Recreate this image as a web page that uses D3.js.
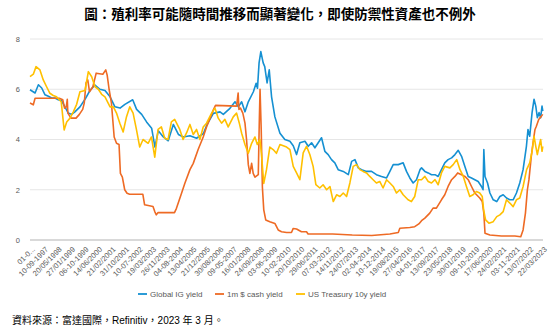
<!DOCTYPE html>
<html><head><meta charset="utf-8">
<script src="https://cdn.jsdelivr.net/npm/d3@7"></script>
<style>
html,body{margin:0;padding:0;background:#fff;}
svg{display:block;}
</style></head>
<body>
<svg id="chart" width="560" height="334"></svg>
<script>
// ---- data (decimal year, value %) ----
const seriesNames = ["Global IG yield", "1m $ cash yield", "US Treasury 10y yield"];
const seriesColors = ["#1590D2", "#EE6A24", "#FFC000"];

const globalIG = [[1997.00,5.98],[1997.26,5.85],[1997.43,6.18],[1997.60,6.05],[1997.77,5.78],[1997.94,5.72],[1998.11,5.65],[1998.28,5.65],[1998.45,5.58],[1998.62,5.54],[1998.79,5.30],[1998.96,5.05],[1999.13,5.00],[1999.30,5.10],[1999.56,5.30],[1999.82,5.60],[2000.07,5.95],[2000.33,6.17],[2000.58,6.00],[2000.84,5.95],[2001.10,5.70],[2001.35,5.30],[2001.61,5.25],[2001.86,5.40],[2002.26,5.58],[2002.46,5.20],[2002.72,5.00],[2002.97,4.70],[2003.23,4.45],[2003.40,3.70],[2003.57,4.35],[2003.83,4.10],[2004.08,3.95],[2004.34,4.60],[2004.60,4.20],[2004.85,4.10],[2005.19,4.15],[2005.53,4.05],[2005.88,4.24],[2006.05,4.57],[2006.39,5.04],[2006.73,5.10],[2006.90,5.00],[2007.24,5.24],[2007.50,5.50],[2007.67,5.30],[2007.84,5.50],[2008.01,5.10],[2008.18,5.50],[2008.44,5.90],[2008.58,6.24],[2008.65,6.04],[2008.73,7.05],[2008.82,7.50],[2008.94,7.05],[2009.02,6.90],[2009.14,6.25],[2009.25,6.77],[2009.37,5.70],[2009.54,4.90],[2009.80,4.25],[2010.05,4.00],[2010.31,3.93],[2010.48,3.75],[2010.65,3.40],[2010.82,3.87],[2011.08,3.93],[2011.25,3.73],[2011.42,3.87],[2011.59,3.67],[2011.76,3.87],[2011.93,4.07],[2012.10,3.53],[2012.27,3.40],[2012.44,3.20],[2012.61,3.07],[2012.78,2.80],[2013.04,2.73],[2013.30,2.60],[2013.47,3.13],[2013.64,3.20],[2013.81,2.87],[2013.98,2.80],[2014.23,2.73],[2014.49,2.73],[2014.74,2.60],[2015.00,2.53],[2015.26,2.47],[2015.43,2.73],[2015.60,3.00],[2015.86,3.00],[2016.11,3.07],[2016.28,2.73],[2016.45,2.47],[2016.62,2.27],[2016.79,2.40],[2016.97,2.80],[2017.05,2.87],[2017.22,2.73],[2017.39,2.67],[2017.56,2.60],[2017.74,2.60],[2017.90,2.53],[2018.07,2.80],[2018.24,3.07],[2018.41,3.20],[2018.59,3.27],[2018.76,3.40],[2018.93,3.57],[2019.10,3.33],[2019.27,2.93],[2019.44,2.53],[2019.61,2.47],[2019.78,2.40],[2019.95,2.33],[2020.12,2.13],[2020.20,2.00],[2020.24,3.60],[2020.30,2.53],[2020.43,2.27],[2020.55,1.87],[2020.72,1.60],[2020.90,1.53],[2021.06,1.73],[2021.23,1.80],[2021.40,1.67],[2021.57,1.60],[2021.74,1.60],[2021.91,1.87],[2022.08,2.27],[2022.25,2.80],[2022.42,3.73],[2022.50,4.40],[2022.59,4.13],[2022.71,5.07],[2022.81,5.60],[2022.90,5.33],[2022.98,4.87],[2023.07,5.07],[2023.15,4.87],[2023.22,5.33],[2023.26,5.13]];

const cashYield = [[1997.00,5.45],[1997.17,5.38],[1997.26,5.64],[1998.50,5.64],[1998.68,5.58],[1998.77,5.25],[1998.86,5.30],[1998.91,5.60],[1998.94,5.05],[1999.10,4.85],[1999.36,4.85],[1999.53,5.00],[1999.70,5.20],[1999.78,5.45],[1999.87,6.25],[1999.96,6.37],[2000.05,5.90],[2000.22,6.10],[2000.39,6.64],[2000.73,6.60],[2000.88,6.77],[2000.95,6.57],[2001.05,6.00],[2001.17,5.45],[2001.31,4.10],[2001.43,3.85],[2001.56,3.80],[2001.63,2.65],[2001.73,2.50],[2001.85,2.00],[2001.97,1.86],[2002.10,1.82],[2002.78,1.82],[2002.87,1.40],[2003.30,1.33],[2003.39,1.13],[2003.47,1.00],[2003.56,1.09],[2004.40,1.09],[2004.50,1.26],[2004.76,1.86],[2004.93,2.26],[2005.19,2.80],[2005.36,3.05],[2005.61,3.60],[2005.87,4.10],[2006.04,4.50],[2006.30,5.00],[2006.40,5.20],[2006.50,5.36],[2007.58,5.33],[2007.66,5.85],[2007.70,5.20],[2007.78,5.25],[2007.90,5.05],[2008.01,4.65],[2008.09,4.00],[2008.18,3.00],[2008.26,2.65],[2008.35,3.05],[2008.43,2.65],[2008.52,2.50],[2008.69,2.60],[2008.74,4.65],[2008.78,6.00],[2008.84,4.40],[2008.90,2.10],[2008.97,1.20],[2009.07,0.80],[2009.28,0.73],[2009.54,0.66],[2009.71,0.40],[2009.88,0.33],[2010.14,0.30],[2010.39,0.30],[2010.48,0.46],[2010.65,0.44],[2010.90,0.33],[2011.16,0.33],[2011.24,0.24],[2012.50,0.24],[2013.50,0.20],[2014.50,0.18],[2015.43,0.24],[2015.86,0.30],[2015.94,0.47],[2016.45,0.50],[2016.70,0.53],[2016.91,0.64],[2017.05,0.77],[2017.22,0.87],[2017.47,1.07],[2017.64,1.27],[2017.81,1.27],[2018.07,1.60],[2018.24,1.80],[2018.41,2.13],[2018.59,2.40],[2018.76,2.53],[2018.90,2.67],[2019.10,2.60],[2019.27,2.53],[2019.44,2.40],[2019.61,2.13],[2019.78,1.87],[2020.03,1.67],[2020.16,1.53],[2020.24,1.07],[2020.30,0.27],[2020.55,0.20],[2021.14,0.16],[2021.83,0.16],[2022.13,0.13],[2022.25,0.40],[2022.37,1.07],[2022.47,2.00],[2022.55,2.40],[2022.67,3.33],[2022.76,3.87],[2022.86,4.40],[2022.93,4.53],[2023.05,4.80],[2023.19,4.93],[2023.26,5.00]];

const ust10y = [[1997.00,6.50],[1997.17,6.60],[1997.31,6.90],[1997.51,6.77],[1997.68,6.37],[1997.85,6.10],[1998.02,5.84],[1998.19,5.75],[1998.36,5.70],[1998.60,5.50],[1998.75,4.38],[1998.88,4.70],[1999.05,4.85],[1999.22,5.10],[1999.39,5.40],[1999.56,5.90],[1999.82,5.95],[1999.99,6.70],[2000.16,6.50],[2000.33,6.10],[2000.50,6.00],[2000.67,5.80],[2000.84,5.70],[2001.10,5.30],[2001.27,5.30],[2001.43,5.05],[2001.60,4.65],[2001.77,4.30],[2001.94,4.90],[2002.11,5.30],[2002.28,5.05],[2002.45,4.40],[2002.62,3.70],[2002.79,4.00],[2003.05,3.85],[2003.22,4.10],[2003.39,3.30],[2003.56,4.40],[2003.73,4.50],[2003.90,4.05],[2004.07,4.00],[2004.24,4.70],[2004.41,4.80],[2004.67,4.40],[2004.84,4.00],[2005.01,4.25],[2005.19,4.60],[2005.36,4.20],[2005.53,4.40],[2005.70,4.00],[2005.87,4.50],[2006.04,4.65],[2006.30,5.05],[2006.47,5.25],[2006.64,4.85],[2006.81,4.65],[2006.98,4.80],[2007.15,4.50],[2007.41,4.90],[2007.58,5.05],[2007.72,4.65],[2007.84,4.25],[2008.01,3.80],[2008.18,3.45],[2008.35,3.85],[2008.52,4.10],[2008.64,3.80],[2008.77,4.00],[2008.85,3.45],[2008.97,2.25],[2009.11,2.80],[2009.28,3.70],[2009.45,3.60],[2009.62,3.45],[2009.80,3.80],[2009.97,3.75],[2010.14,3.70],[2010.31,3.60],[2010.48,2.93],[2010.65,2.67],[2010.82,2.40],[2010.99,3.47],[2011.16,3.73],[2011.33,3.40],[2011.50,2.93],[2011.64,2.20],[2011.84,2.07],[2012.01,2.20],[2012.19,2.00],[2012.36,2.13],[2012.53,1.53],[2012.70,1.80],[2012.87,1.73],[2013.04,1.87],[2013.21,1.73],[2013.38,2.27],[2013.55,2.93],[2013.72,3.00],[2013.89,2.80],[2014.06,2.73],[2014.23,2.67],[2014.40,2.53],[2014.57,2.40],[2014.74,2.27],[2014.91,2.33],[2015.08,2.07],[2015.26,2.40],[2015.43,2.27],[2015.60,2.13],[2015.77,1.87],[2015.94,2.00],[2016.11,1.80],[2016.36,1.60],[2016.53,1.53],[2016.70,1.73],[2016.88,2.40],[2017.05,2.40],[2017.22,2.53],[2017.39,2.33],[2017.56,2.27],[2017.74,2.40],[2017.90,2.20],[2018.07,2.67],[2018.24,2.93],[2018.50,2.87],[2018.67,3.00],[2018.85,3.20],[2019.02,2.80],[2019.19,2.53],[2019.35,2.13],[2019.52,1.73],[2019.69,1.80],[2019.86,1.93],[2020.03,1.87],[2020.16,1.73],[2020.23,1.20],[2020.33,0.80],[2020.50,0.67],[2020.72,0.73],[2020.90,0.93],[2021.06,1.00],[2021.23,1.13],[2021.40,1.60],[2021.57,1.47],[2021.74,1.33],[2021.91,1.60],[2022.08,1.67],[2022.25,2.13],[2022.43,2.80],[2022.59,3.07],[2022.71,3.53],[2022.81,4.13],[2022.90,3.73],[2022.98,3.40],[2023.07,3.73],[2023.15,4.00],[2023.22,3.53],[2023.26,3.73]];

const tickDates = ["1997-01-01","1997-09-10","1998-05-20","1999-01-27","1999-10-06","2000-06-14","2001-02-21","2001-10-31","2002-07-10","2003-03-19","2003-11-26","2004-08-04","2005-04-13","2005-12-21","2006-08-30","2007-05-09","2008-01-16","2008-09-24","2009-06-03","2010-02-10","2010-10-20","2011-06-29","2012-03-07","2012-11-14","2013-07-24","2014-04-02","2014-12-10","2015-08-19","2016-04-27","2017-01-04","2017-09-13","2018-05-23","2019-01-30","2019-10-09","2020-06-17","2021-02-24","2021-11-03","2022-07-13","2023-03-22"];
const tickLabels = ["01-0...","10-09-1997","20/05/1998","27/01/1999","06-10-1999","14/06/2000","21/02/2001","31/10/2001","10-07-2002","19/03/2003","26/11/2003","04-08-2004","13/04/2005","21/12/2005","30/08/2006","09-05-2007","16/01/2008","24/09/2008","03-06-2009","10-02-2010","20/10/2010","29/06/2011","07-03-2012","14/11/2012","24/07/2013","02-04-2014","10-12-2014","19/08/2015","27/04/2016","04-01-2017","13/09/2017","23/05/2018","30/01/2019","09-10-2019","17/06/2020","24/02/2021","03-11-2021","13/07/2022","22/03/2023"];
const yTicks = [0, 2, 4, 6, 8];

const titleText = "圖：殖利率可能隨時間推移而顯著變化，即使防禦性資產也不例外";
const sourceText = "資料來源：富達國際，Refinitiv，2023 年 3 月。";

// ---- helpers ----
function toDate(t) {
  const y = Math.floor(t);
  const s = new Date(y, 0, 1), e = new Date(y + 1, 0, 1);
  return new Date(+s + (t - y) * (e - s));
}
const parse = d3.timeParse("%Y-%m-%d");
const FONT = "'Liberation Sans', Arial, 'Noto Sans CJK TC', sans-serif";

const svg = d3.select("#chart");
const x = d3.scaleTime().domain([toDate(1997.0), toDate(2023.27)]).range([30, 543]);
const y = d3.scaleLinear().domain([0, 8]).range([240, 39]);

// title
svg.append("text").attr("x", 280).attr("y", 19).attr("text-anchor", "middle")
  .attr("font-family", "'Noto Sans CJK TC', sans-serif").attr("font-weight", "bold")
  .attr("font-size", 13.5).attr("fill", "#000").text(titleText);

// gridlines
const grid = svg.append("g");
grid.selectAll("line").data(yTicks).join("line")
  .attr("x1", 30).attr("x2", 543)
  .attr("y1", d => y(d)).attr("y2", d => y(d))
  .attr("stroke", d => d === 0 ? "#d9d9d9" : "#e6e6e6")
  .attr("stroke-width", d => d === 0 ? 2 : 1);

// y axis labels
const yAxis = d3.axisLeft(y).tickValues(yTicks).tickSize(0).tickPadding(0).tickFormat(d3.format("d"));
svg.append("g").attr("transform", "translate(20,0)").call(yAxis)
  .call(g => g.select(".domain").remove())
  .call(g => g.selectAll("text").attr("font-family", FONT).attr("font-size", 7.5).attr("fill", "#595959"));

// x axis labels
const xAxis = d3.axisBottom(x).tickValues(tickDates.map(parse)).tickSize(0)
  .tickFormat((d, i) => tickLabels[i]);
svg.append("g").attr("transform", "translate(0,244)").call(xAxis)
  .call(g => g.select(".domain").remove())
  .call(g => g.selectAll("text")
    .attr("font-family", FONT).attr("font-size", 7.5).attr("fill", "#595959")
    .attr("text-anchor", "end").attr("dy", "0.35em").attr("y", 0)
    .attr("transform", "translate(3,4) rotate(-45)"));

// lines
const line = d3.line().x(d => x(toDate(d[0]))).y(d => y(d[1]));
const allSeries = [globalIG, cashYield, ust10y];
svg.append("g").selectAll("path").data(allSeries).join("path")
  .attr("d", line).attr("fill", "none")
  .attr("stroke", (d, i) => seriesColors[i])
  .attr("stroke-width", 1.6).attr("stroke-linejoin", "round");

// legend
const legendX = [138, 215, 296];
const lg = svg.append("g");
seriesNames.forEach((n, i) => {
  lg.append("line").attr("x1", legendX[i]).attr("x2", legendX[i] + 9)
    .attr("y1", 294).attr("y2", 294).attr("stroke", seriesColors[i]).attr("stroke-width", 1.8);
  lg.append("text").attr("x", legendX[i] + 12).attr("y", 297)
    .attr("font-family", FONT).attr("font-size", 8).attr("fill", "#595959").text(n);
});

// source
svg.append("text").attr("x", 12).attr("y", 324)
  .attr("font-family", "'Liberation Sans', Arial, 'Noto Sans CJK TC', sans-serif")
  .attr("font-size", 10).attr("fill", "#000").text(sourceText);
</script>
</body></html>
